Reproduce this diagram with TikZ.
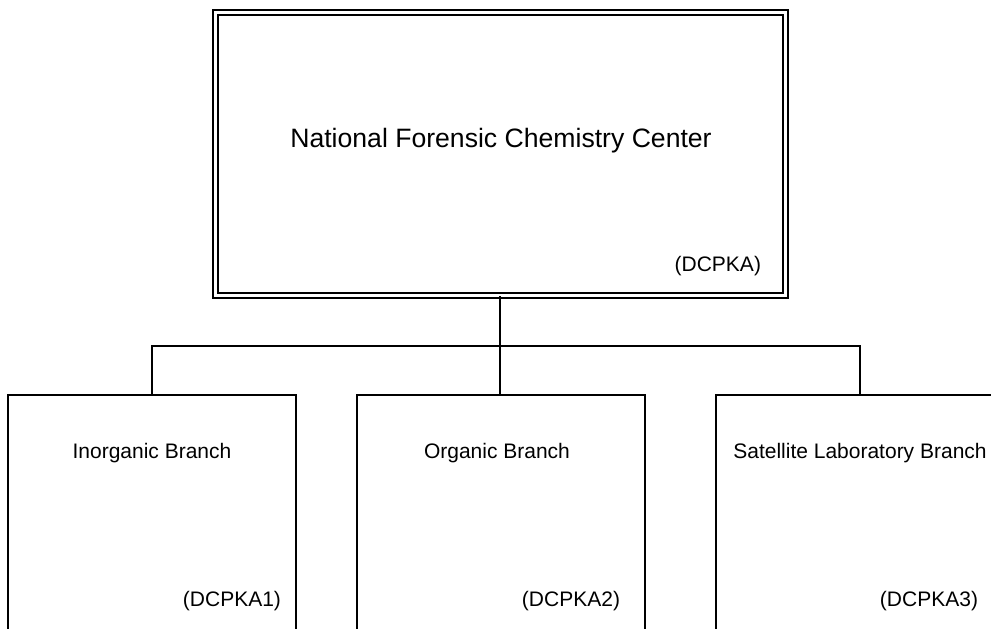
\documentclass[tikz,border=0pt]{standalone}
\usepackage{fontspec}
\setmainfont{Liberation Sans}
\usetikzlibrary{positioning}

\begin{document}
\begin{tikzpicture}[x=1pt,y=-1pt,line width=2pt,
    head/.style={draw,rectangle,double,double distance=3pt,inner sep=0pt,
      minimum width=570pt,minimum height=282.6pt},
    unit/.style={draw,rectangle,inner sep=0pt,
      minimum width=288pt,minimum height=300pt},
    headname/.style={font=\fontsize{26.6}{32}\selectfont,inner sep=0pt,anchor=base},
    unitname/.style={font=\fontsize{21}{25}\selectfont,inner sep=0pt,anchor=base},
    code/.style={font=\fontsize{21}{25}\selectfont,inner sep=0pt,anchor=base east}]

  \useasboundingbox (0,0) rectangle (991,629);
  \clip (0,0) rectangle (991,629);

  % head office
  \node[head] (ncc) at (500,154) {};
  \node[headname] (nccname) at (501,147) {National Forensic Chemistry Center};
  \node[code] (ncccode) at (762,271) {(DCPKA)};

  % branches
  \node[unit,anchor=north] (inorg) at (152,394) {};
  \node[unit,anchor=north] (org)   at (501,394) {};
  \node[unit,anchor=north] (sat)   at (860,394) {};

  \node[unitname] (inorgname) at (152,458) {Inorganic Branch};
  \node[unitname] (orgname)   at (497,458) {Organic Branch};
  \node[unitname] (satname)   at (860,458) {Satellite Laboratory Branch};

  \node[code] (inorgcode) at (282,606) {(DCPKA1)};
  \node[code] (orgcode)   at (621,606) {(DCPKA2)};
  \node[code] (satcode)   at (979,606) {(DCPKA3)};

  % links
  \coordinate (bus) at (500,346);
  \draw (ncc.south) -- (ncc.south |- org.north);
  \draw (inorg.north) |- (bus) -| (sat.north);
\end{tikzpicture}
\end{document}
